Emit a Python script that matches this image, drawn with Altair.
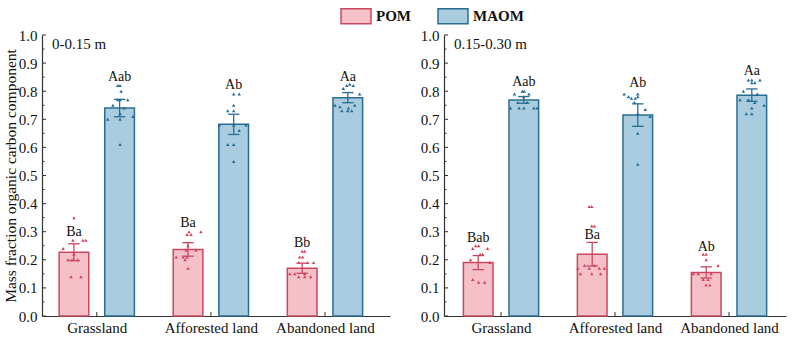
import json
import altair as alt
import pandas as pd

# ---- data ---------------------------------------------------------------
categories = ["Grassland", "Afforested land", "Abandoned land"]
fractions = ["POM", "MAOM"]
depths = ["0-0.15 m", "0.15-0.30 m"]

# bar heights (mean) and standard errors, per land use
top_pom_mean = [0.227, 0.237, 0.170]
top_pom_se = [0.030, 0.024, 0.018]
top_maom_mean = [0.740, 0.682, 0.777]
top_maom_se = [0.031, 0.036, 0.018]
bot_pom_mean = [0.190, 0.220, 0.155]
bot_pom_se = [0.025, 0.042, 0.020]
bot_maom_mean = [0.769, 0.715, 0.786]
bot_maom_se = [0.012, 0.040, 0.022]

# significance letters and the height they are written at
top_pom_letters = ["Ba", "Ba", "Bb"]
top_maom_letters = ["Aab", "Ab", "Aa"]
bot_pom_letters = ["Bab", "Ba", "Ab"]
bot_maom_letters = ["Aab", "Ab", "Aa"]
top_pom_letter_y = [0.300, 0.332, 0.259]
top_maom_letter_y = [0.852, 0.822, 0.850]
bot_pom_letter_y = [0.279, 0.288, 0.247]
bot_maom_letter_y = [0.834, 0.828, 0.873]

# individual observations and their horizontal jitter (fraction of half bar width)
top_pom_pts = [
    [0.35, 0.27, 0.27, 0.27, 0.24, 0.22, 0.20, 0.20, 0.20, 0.14, 0.14],
    [0.30, 0.30, 0.29, 0.29, 0.25, 0.235, 0.235, 0.21, 0.21, 0.21, 0.20, 0.17],
    [0.23, 0.23, 0.21, 0.21, 0.19, 0.19, 0.19, 0.15, 0.15, 0.15, 0.14, 0.14, 0.14],
]
top_pom_jit = [
    [0.0, -0.07, 0.6, 0.8, -0.73, 0.0, -0.4, -0.13, 0.27, -0.2, 0.47],
    [0.07, 0.87, -0.07, 0.2, 0.0, -0.13, 0.53, -0.8, -0.33, -0.07, -0.2, 0.0],
    [0.0, 0.17, -0.17, 0.03, -0.23, 0.37, 0.77, -0.83, -0.5, 0.17, -0.23, 0.17, 0.57],
]
top_maom_pts = [
    [0.82, 0.82, 0.80, 0.77, 0.77, 0.77, 0.75, 0.74, 0.72, 0.70, 0.70, 0.71, 0.61],
    [0.79, 0.79, 0.75, 0.73, 0.73, 0.68, 0.68, 0.68, 0.66, 0.61, 0.61, 0.55],
    [0.825, 0.82, 0.82, 0.81, 0.79, 0.75, 0.75, 0.745, 0.74, 0.73, 0.73, 0.73],
]
top_maom_jit = [
    [-0.12, 0.03, 0.1, -0.12, 0.03, 0.55, -0.45, 0.3, 0.03, -0.8, 0.03, 0.9, 0.03],
    [0.0, 0.37, 0.0, -0.4, 0.0, -0.97, 0.0, 0.83, 0.37, -0.4, 0.0, 0.0],
    [0.13, -0.07, 0.37, -0.3, 0.8, -0.87, 0.47, -0.53, 0.05, -0.4, 0.0, 0.27],
]
bot_pom_pts = [
    [0.25, 0.25, 0.24, 0.24, 0.22, 0.22, 0.20, 0.19, 0.13, 0.12, 0.12],
    [0.39, 0.39, 0.32, 0.32, 0.18, 0.18, 0.17, 0.17, 0.17, 0.17, 0.15, 0.15, 0.15],
    [0.22, 0.22, 0.20, 0.18, 0.15, 0.15, 0.15, 0.13, 0.13, 0.11, 0.11],
]
bot_pom_jit = [
    [-0.17, 0.03, -0.37, 0.63, 0.13, 0.3, -0.52, 0.8, -0.37, 0.03, 0.43],
    [-0.2, -0.03, -0.03, 0.15, -0.52, 0.15, -0.97, -0.2, 0.48, 0.82, -0.8, -0.03, 0.57],
    [-0.2, 0.0, 0.0, 0.8, -0.87, -0.53, 0.33, -0.2, 0.13, 0.0, 0.25],
]
bot_maom_pts = [
    [0.80, 0.80, 0.79, 0.79, 0.78, 0.76, 0.76, 0.74, 0.74, 0.74, 0.74, 0.74],
    [0.79, 0.79, 0.78, 0.78, 0.775, 0.775, 0.76, 0.735, 0.72, 0.71, 0.65, 0.54],
    [0.84, 0.84, 0.84, 0.83, 0.83, 0.80, 0.79, 0.77, 0.77, 0.76, 0.75, 0.74, 0.72, 0.72],
]
bot_maom_jit = [
    [-0.1, 0.03, -0.63, 0.35, 0.0, -0.4, 0.23, -0.9, -0.32, 0.0, 0.68, 0.9],
    [-0.92, 0.0, -0.63, 0.0, -0.43, -0.17, -0.23, 0.5, 0.0, 0.83, 0.0, 0.0],
    [-0.23, 0.0, 0.55, 0.0, 0.2, -0.57, 0.37, -0.8, -0.23, 0.2, 0.83, 0.0, -0.37, 0.0],
]

y_ticks = [round(0.1 * i, 1) for i in range(11)]
y_minor = [round(0.05 + 0.1 * i, 2) for i in range(10)]

# ---- styling ------------------------------------------------------------
FONT = "Liberation Serif"
AXIS_COLOR = "#333333"
fill_colors = ["#F5C0C8", "#A9CDDF"]
stroke_colors = ["#C9485F", "#2A6D93"]
point_colors = ["#D6405E", "#1E6B97"]
OFFSET = {"POM": -0.2, "MAOM": 0.2}   # bar centre relative to category
HALF = 0.13                           # half bar width (x units)
CAP = 0.05                            # half error-cap width (x units)
PLOT_H = 281

panels = [
    dict(depth=depths[0], width=348, domain=[-0.48, 2.57], title=True,
         POM=(top_pom_mean, top_pom_se, top_pom_letters, top_pom_letter_y, top_pom_pts, top_pom_jit),
         MAOM=(top_maom_mean, top_maom_se, top_maom_letters, top_maom_letter_y, top_maom_pts, top_maom_jit)),
    dict(depth=depths[1], width=342, domain=[-0.5, 2.5], title=False,
         POM=(bot_pom_mean, bot_pom_se, bot_pom_letters, bot_pom_letter_y, bot_pom_pts, bot_pom_jit),
         MAOM=(bot_maom_mean, bot_maom_se, bot_maom_letters, bot_maom_letter_y, bot_maom_pts, bot_maom_jit)),
]

fill_scale = alt.Scale(domain=fractions, range=fill_colors)
stroke_scale = alt.Scale(domain=fractions, range=stroke_colors)
point_scale = alt.Scale(domain=fractions, range=point_colors)
y_scale = alt.Scale(domain=[0, 1], nice=False, zero=True)

legend = alt.Legend(
    title=None, orient="none", direction="horizontal", columns=2,
    legendX=298, legendY=-35,
    symbolType="M-1,-0.5L1,-0.5L1,0.5L-1,0.5Z", symbolSize=900,
    symbolStrokeWidth=1.5, symbolOpacity=1,
    labelFont=FONT, labelFontSize=15, labelFontWeight="bold", labelColor="#111111",
    labelOffset=4, columnPadding=24,
)

label_expr = json.dumps(categories) + "[datum.value]"


def make_panel(p):
    bar_rows, cap_rows, pt_rows = [], [], []
    for frac in fractions:
        mean, se, letters, letter_y, pts, jit = p[frac]
        for i in range(len(categories)):
            xc = i + OFFSET[frac]
            bar_rows.append(dict(fraction=frac, xc=xc, x0=xc - HALF, x1=xc + HALF,
                                 mean=mean[i], lo=mean[i] - se[i], hi=mean[i] + se[i],
                                 letter=letters[i], ly=letter_y[i]))
            for end in (mean[i] - se[i], mean[i] + se[i]):
                cap_rows.append(dict(fraction=frac, c0=xc - CAP, c1=xc + CAP, y=end))
            for v, j in zip(pts[i], jit[i]):
                pt_rows.append(dict(fraction=frac, px=xc + j * HALF, v=v))
    bars_df = pd.DataFrame(bar_rows)
    caps_df = pd.DataFrame(cap_rows)
    pts_df = pd.DataFrame(pt_rows)

    x_scale = alt.Scale(domain=p["domain"], nice=False, zero=False)
    x_axis = alt.Axis(values=[0, 1, 2], labelExpr=label_expr, title=None, grid=False,
                      ticks=False, tickSize=0, labelFont=FONT, labelFontSize=15,
                      labelColor="#111111", labelPadding=4, domainColor=AXIS_COLOR,
                      domainWidth=1.2, labelFlush=False, labelOverlap=False)
    y_axis = alt.Axis(values=y_ticks, format=".1f", grid=False, ticks=False, tickSize=0,
                      labelFont=FONT, labelFontSize=15, labelColor="#111111",
                      labelPadding=5, domainColor=AXIS_COLOR, domainWidth=1.2,
                      labelOverlap=False, labelFlush=False,
                      title="Mass fraction organic carbon component" if p["title"] else None,
                      titleFont=FONT, titleFontSize=15.5, titleFontWeight="normal",
                      titleColor="#111111", titlePadding=0)

    # every layer carries the same axis definition so the merged axes agree
    def X(field):
        return alt.X(field, scale=x_scale, axis=x_axis)

    def Y(field):
        return alt.Y(field, scale=y_scale, axis=y_axis)

    bars = alt.Chart(bars_df).mark_bar(strokeWidth=1.5).encode(
        x=X("x0:Q"), x2="x1:Q",
        y=Y("mean:Q"), y2=alt.datum(0),
        fill=alt.Fill("fraction:N", scale=fill_scale, legend=legend),
        stroke=alt.Stroke("fraction:N", scale=stroke_scale, legend=legend),
    )
    pts = alt.Chart(pts_df).mark_point(shape="triangle-up", filled=True, size=12, opacity=1).encode(
        x=X("px:Q"), y=Y("v:Q"),
        color=alt.Color("fraction:N", scale=point_scale, legend=None),
    )
    err = alt.Chart(bars_df).mark_rule(strokeWidth=1.3).encode(
        x=X("xc:Q"), y=Y("lo:Q"), y2="hi:Q",
        stroke=alt.Stroke("fraction:N", scale=stroke_scale, legend=legend),
    )
    caps = alt.Chart(caps_df).mark_rule(strokeWidth=1.3).encode(
        x=X("c0:Q"), x2="c1:Q", y=Y("y:Q"),
        stroke=alt.Stroke("fraction:N", scale=stroke_scale, legend=legend),
    )
    letters = alt.Chart(bars_df).mark_text(font=FONT, fontSize=14, baseline="middle",
                                           color="#111111").encode(
        x=X("xc:Q"), y=Y("ly:Q"), text="letter:N")
    tag = alt.Chart(alt.Data(values=[{"t": p["depth"]}])).mark_text(
        font=FONT, fontSize=15, align="left", baseline="middle", color="#111111").encode(
        x=alt.value(10), y=alt.value(9), text="t:N")

    # inward axis ticks
    major = alt.Chart(alt.Data(values=[{"t": t} for t in y_ticks])).mark_rule(
        color=AXIS_COLOR, strokeWidth=1).encode(y=Y("t:Q"), x=alt.value(0), x2=alt.value(4))
    minor = alt.Chart(alt.Data(values=[{"t": t} for t in y_minor])).mark_rule(
        color=AXIS_COLOR, strokeWidth=1).encode(y=Y("t:Q"), x=alt.value(0), x2=alt.value(2.5))
    xt = alt.Chart(alt.Data(values=[{"i": i} for i in range(len(categories))])).mark_rule(
        color=AXIS_COLOR, strokeWidth=1).encode(x=X("i:Q"), y=alt.value(PLOT_H), y2=alt.value(PLOT_H - 4))

    return alt.layer(bars, pts, err, caps, letters, tag, major, minor, xt).properties(
        width=p["width"], height=PLOT_H)


chart = alt.hconcat(*[make_panel(p) for p in panels], spacing=30).properties(
    padding={"left": 3, "top": 0, "right": 5, "bottom": 3},
).configure_view(stroke=None).resolve_scale(x="independent")

chart.save("out.html", embed_options={"renderer": "svg", "actions": False})
